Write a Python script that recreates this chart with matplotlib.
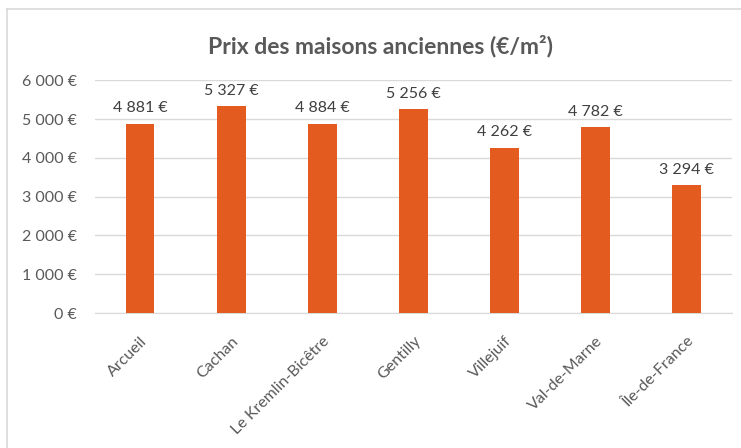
import matplotlib.pyplot as plt
from matplotlib.lines import Line2D

# Données
communes = ["Arcueil", "Cachan", "Le Kremlin-Bicêtre", "Gentilly",
            "Villejuif", "Val-de-Marne", "Île-de-France"]
prix = [4881, 5327, 4884, 5256, 4262, 4782, 3294]
yticks = [0, 1000, 2000, 3000, 4000, 5000, 6000]


def euro(v):
    return f"{v:,.0f} €".replace(",", " ")


plt.rcParams['font.family'] = ['Lato', 'DejaVu Sans']
gris = "#595959"

fig = plt.figure(figsize=(7.41, 4.48), dpi=100)
ax = fig.add_axes([0.128, 0.301, 0.86, 0.52])

# cadre du graphique (bords gauche et haut visibles)
fig.add_artist(Line2D([0.0094, 0.0094], [0, 0.98], color="#d9d9d9", lw=1.2, transform=fig.transFigure))
fig.add_artist(Line2D([0.0094, 1], [0.98, 0.98], color="#d9d9d9", lw=1.2, transform=fig.transFigure))

x = range(len(communes))
ax.bar(x, prix, width=0.31, color="#E35B1E", zorder=3)

for xi, v in zip(x, prix):
    ax.text(xi, v + 220, euro(v), ha="center", va="bottom", fontsize=11.5, color="#404040")

ax.set_xlim(-0.5, len(communes) - 0.5)
ax.set_ylim(0, 6000)
ax.set_yticks(yticks)
ax.set_yticklabels([euro(v) for v in yticks], fontsize=11.5, color=gris)
ax.set_xticks(list(x))
ax.set_xticklabels(communes, rotation=45, ha="right", rotation_mode="anchor",
                   fontsize=11.5, color=gris)
ax.tick_params(axis="y", length=0, pad=13)
ax.tick_params(axis="x", length=0, pad=15)
ax.grid(axis="y", color="#d9d9d9", lw=1, zorder=0)
for s in ["top", "right", "left"]:
    ax.spines[s].set_visible(False)
ax.spines["bottom"].set_color("#d9d9d9")

fig.text(0.513, 0.897, "Prix des maisons anciennes (€/m²)", ha="center", va="center",
         fontsize=16.5, fontweight="bold", color=gris)

fig.savefig("out.png", dpi=100)
